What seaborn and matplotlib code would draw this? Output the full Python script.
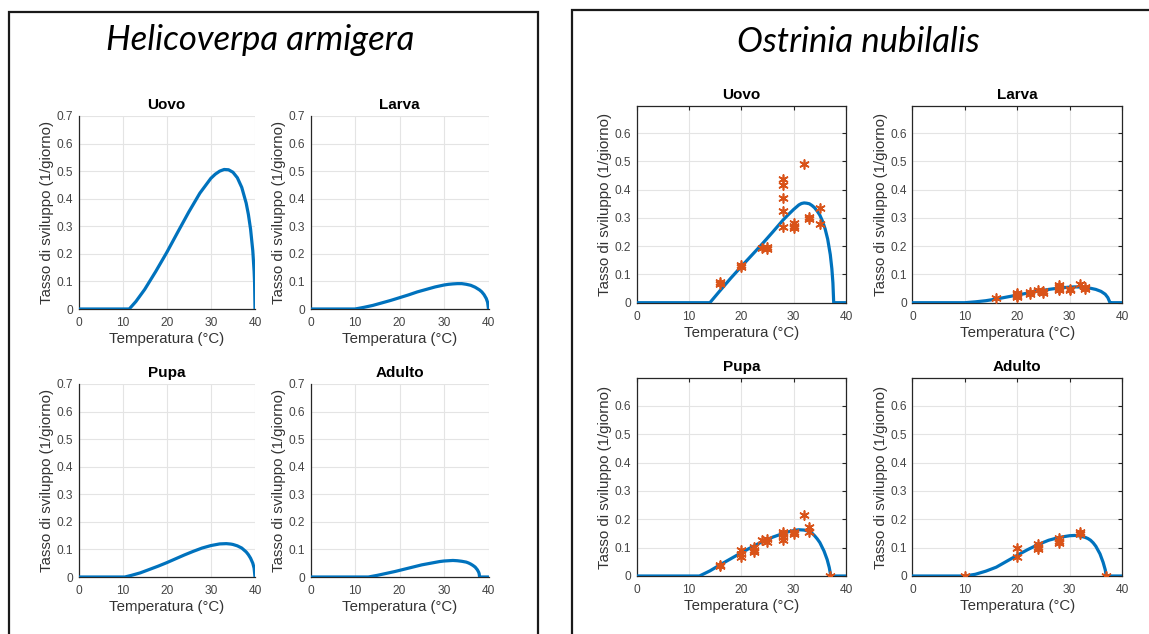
import matplotlib
matplotlib.use("Agg")
import numpy as np
import pandas as pd
import matplotlib.pyplot as plt
import seaborn as sns
from matplotlib.patches import Rectangle

# ---- data ----
# Helicoverpa armigera: model curves only
ha_uovo_T = [0, 11.5, 13, 15, 17.5, 20, 22.5, 25, 27.5, 30, 31, 32, 33, 34, 35, 36, 37, 38, 38.5, 39, 39.5, 39.8, 39.9, 40]
ha_uovo_r = [0, 0, 0.027, 0.071, 0.136, 0.205, 0.279, 0.352, 0.42, 0.474, 0.489, 0.5, 0.506, 0.505, 0.496, 0.476, 0.441, 0.384, 0.343, 0.289, 0.211, 0.136, 0.097, 0]

ha_larva_T = [0, 10, 12, 14, 16, 18, 20, 22, 24, 26, 28, 30, 31, 32, 33, 34, 35, 36, 37, 38, 38.5, 39, 39.5, 39.8, 40]
ha_larva_r = [0, 0, 0.006, 0.013, 0.022, 0.031, 0.041, 0.051, 0.062, 0.071, 0.08, 0.087, 0.0895, 0.091, 0.092, 0.092, 0.0896, 0.086, 0.079, 0.069, 0.062, 0.052, 0.038, 0.024, 0]

ha_pupa_T = [0, 10.5, 12, 14, 16, 18, 20, 22, 24, 26, 28, 30, 31, 32, 33.5, 34.5, 35, 36, 37, 38, 38.5, 39, 39.5, 39.8, 40]
ha_pupa_r = [0, 0, 0.006, 0.015, 0.027, 0.039, 0.052, 0.066, 0.08, 0.093, 0.105, 0.114, 0.117, 0.12, 0.121, 0.1195, 0.118, 0.113, 0.105, 0.091, 0.081, 0.068, 0.05, 0.032, 0]

ha_adulto_T = [0, 13, 15, 17, 19, 21, 23, 25, 27, 29, 30, 31, 32, 33, 34, 35, 35.5, 36, 36.5, 37, 37.5, 37.8, 37.9, 38, 40]
ha_adulto_r = [0, 0, 0.006, 0.013, 0.02, 0.028, 0.036, 0.044, 0.05, 0.056, 0.058, 0.059, 0.06, 0.059, 0.057, 0.054, 0.051, 0.047, 0.042, 0.036, 0.026, 0.017, 0.012, 0, 0]

# Ostrinia nubilalis: model curves + observations
on_uovo_T = [0, 14, 16, 18, 20, 22, 24, 26, 28, 29, 30, 31, 31.5, 32, 32.5, 33, 33.5, 34, 34.5, 35, 35.5, 36, 36.5, 37, 37.3, 37.5, 37.65, 40]
on_uovo_r = [0, 0, 0.044, 0.087, 0.128, 0.168, 0.208, 0.25, 0.293, 0.312, 0.33, 0.346, 0.351, 0.353, 0.352, 0.35, 0.344, 0.336, 0.324, 0.31, 0.289, 0.262, 0.225, 0.17, 0.12, 0.07, 0, 0]
on_uovo_obs_T = [16, 16, 20, 20, 24, 25, 25, 28, 28, 28, 28, 28, 30, 30, 30, 32, 33, 33, 35, 35]
on_uovo_obs_r = [0.066, 0.072, 0.128, 0.135, 0.195, 0.196, 0.19, 0.437, 0.418, 0.372, 0.325, 0.269, 0.283, 0.272, 0.264, 0.49, 0.304, 0.296, 0.334, 0.278]

on_larva_T = [0, 10, 12, 14, 16, 18, 20, 22, 24, 26, 28, 30, 31, 32, 33, 34, 35, 36, 36.8, 37.3, 37.6, 37.7, 40]
on_larva_r = [0, 0, 0.003, 0.007, 0.013, 0.02, 0.027, 0.034, 0.041, 0.047, 0.052, 0.055, 0.056, 0.0555, 0.054, 0.051, 0.047, 0.04, 0.03, 0.018, 0.005, 0, 0]
on_larva_obs_T = [16, 20, 20, 20, 20, 22.5, 22.5, 24, 25, 25, 28, 28, 28, 28, 30, 30, 32, 33, 33]
on_larva_obs_r = [0.015, 0.036, 0.031, 0.025, 0.02, 0.038, 0.031, 0.045, 0.04, 0.035, 0.061, 0.055, 0.05, 0.045, 0.05, 0.046, 0.067, 0.054, 0.049]

on_pupa_T = [0, 12, 14, 16, 18, 20, 22, 24, 26, 28, 29, 30, 30.5, 31, 32, 33, 33.5, 34, 34.5, 35, 35.8, 36.4, 36.8, 37.1, 40]
on_pupa_r = [0, 0, 0.018, 0.04, 0.061, 0.082, 0.102, 0.121, 0.137, 0.15, 0.156, 0.16, 0.162, 0.163, 0.162, 0.157, 0.151, 0.142, 0.131, 0.118, 0.088, 0.058, 0.03, 0, 0]
on_pupa_obs_T = [16, 16, 20, 20, 20, 22.5, 22.5, 22.5, 24, 25, 25, 28, 28, 28, 28, 30, 30, 32, 33, 33, 37]
on_pupa_obs_r = [0.04, 0.034, 0.091, 0.079, 0.067, 0.103, 0.093, 0.085, 0.127, 0.129, 0.121, 0.156, 0.148, 0.138, 0.127, 0.154, 0.148, 0.214, 0.174, 0.156, 0.0]

on_adulto_T = [0, 10, 12, 14, 16, 18, 20, 22, 24, 26, 28, 29, 30, 30.5, 31, 32, 33, 33.5, 34, 34.5, 35, 35.8, 36.4, 36.8, 37, 40]
on_adulto_r = [0, 0, 0.006, 0.017, 0.031, 0.052, 0.073, 0.093, 0.111, 0.126, 0.136, 0.139, 0.142, 0.1425, 0.143, 0.141, 0.136, 0.132, 0.126, 0.117, 0.105, 0.078, 0.048, 0.022, 0, 0]
on_adulto_obs_T = [10, 20, 20, 24, 24, 24, 28, 28, 28, 32, 32, 37]
on_adulto_obs_r = [0.0, 0.098, 0.068, 0.113, 0.101, 0.094, 0.135, 0.125, 0.115, 0.154, 0.147, 0.0]

stages = ["Uovo", "Larva", "Pupa", "Adulto"]
species = ["Helicoverpa armigera", "Ostrinia nubilalis"]

# ---- style ----
sns.set_style("white")
plt.rcParams["font.family"] = ["Liberation Sans", "DejaVu Sans"]
BLUE = "#0072BD"
ORANGE = "#D95319"
TXT = "#262626"

W, H = 1149, 634
fig = plt.figure(figsize=(W / 100, H / 100), dpi=100)


def add_ax(x0, x1, ytop, ybot):
    return fig.add_axes([x0 / W, 1 - ybot / H, (x1 - x0) / W, (ybot - ytop) / H])


def style_ax(ax, title, ymax, yticks, box):
    ax.set_xlim(0, 40)
    ax.set_ylim(0, ymax)
    ax.set_xticks([0, 10, 20, 30, 40])
    ax.set_yticks(yticks)
    ax.set_yticklabels(["0" if v == 0 else f"{v:g}" for v in yticks])
    ax.grid(True, color="#e4e4e4", lw=0.8)
    ax.set_axisbelow(True)
    ax.tick_params(direction="in", length=3, width=0.8, colors=TXT, labelsize=8.6,
                   labelcolor="#444444", pad=4, top=box, right=box)
    ax.tick_params(axis="x", pad=6)
    for s in ["left", "bottom"]:
        ax.spines[s].set_color(TXT)
        ax.spines[s].set_linewidth(0.9)
    for s in ["top", "right"]:
        ax.spines[s].set_visible(box)
        ax.spines[s].set_color(TXT)
        ax.spines[s].set_linewidth(0.9)
    ax.set_xlabel("Temperatura (°C)", fontsize=10.8, color="#333333", labelpad=2)
    ax.set_ylabel("Tasso di sviluppo (1/giorno)", fontsize=10.8, color="#333333", labelpad=1.5)
    ax.set_title(title, fontsize=11, fontweight="bold", color="black", pad=5)


def curve(ax, T, r):
    df = pd.DataFrame({"T": T, "r": r})
    sns.lineplot(data=df, x="T", y="r", ax=ax, color=BLUE, linewidth=2.3,
                 estimator=None, sort=False, zorder=3)


def obs(ax, T, r):
    df = pd.DataFrame({"T": T, "r": r})
    sns.scatterplot(data=df, x="T", y="r", ax=ax, color=ORANGE, marker=(6, 2, 0),
                    s=42, linewidth=1.2, zorder=4)


# Helicoverpa armigera (left panel)
left_yticks = [0, 0.1, 0.2, 0.3, 0.4, 0.5, 0.6, 0.7]
ha_curves = [(ha_uovo_T, ha_uovo_r), (ha_larva_T, ha_larva_r),
             (ha_pupa_T, ha_pupa_r), (ha_adulto_T, ha_adulto_r)]
left_pos = [(78.5, 255, 116, 309), (310.5, 488.5, 116, 309),
            (78.5, 255, 384, 577), (310.5, 488.5, 384, 577)]
for stage, (T, r), pos in zip(stages, ha_curves, left_pos):
    ax = add_ax(*pos)
    curve(ax, T, r)
    style_ax(ax, stage, 0.7, left_yticks, box=False)

# Ostrinia nubilalis (right panel)
right_yticks = [0, 0.1, 0.2, 0.3, 0.4, 0.5, 0.6]
on_curves = [(on_uovo_T, on_uovo_r), (on_larva_T, on_larva_r),
             (on_pupa_T, on_pupa_r), (on_adulto_T, on_adulto_r)]
on_obs = [(on_uovo_obs_T, on_uovo_obs_r), (on_larva_obs_T, on_larva_obs_r),
          (on_pupa_obs_T, on_pupa_obs_r), (on_adulto_obs_T, on_adulto_obs_r)]
right_pos = [(636.6, 846, 105.7, 302.7), (912.4, 1122, 105.7, 302.7),
             (636.6, 846, 378.3, 576), (912.4, 1122, 378.3, 576)]
for stage, (T, r), (oT, orr), pos in zip(stages, on_curves, on_obs, right_pos):
    ax = add_ax(*pos)
    curve(ax, T, r)
    obs(ax, oT, orr)
    style_ax(ax, stage, 0.697, right_yticks, box=True)

# frames and species titles
fig.add_artist(Rectangle((9 / W, -0.1), (538 - 9) / W, 1.1 - 12 / H, fill=False,
                         lw=1.6, ec="#1a1a1a", transform=fig.transFigure))
fig.add_artist(Rectangle((572 / W, -0.1), 1.0, 1.1 - 10 / H, fill=False,
                         lw=1.6, ec="#1a1a1a", transform=fig.transFigure))
fig.text(260 / W, 1 - 40 / H, species[0], ha="center", va="center", fontsize=25,
         style="italic", family="Lato", color="black")
fig.text(858.6 / W, 1 - 42.5 / H, species[1], ha="center", va="center", fontsize=25,
         style="italic", family="Lato", color="black")

fig.savefig("out.png", dpi=100)
